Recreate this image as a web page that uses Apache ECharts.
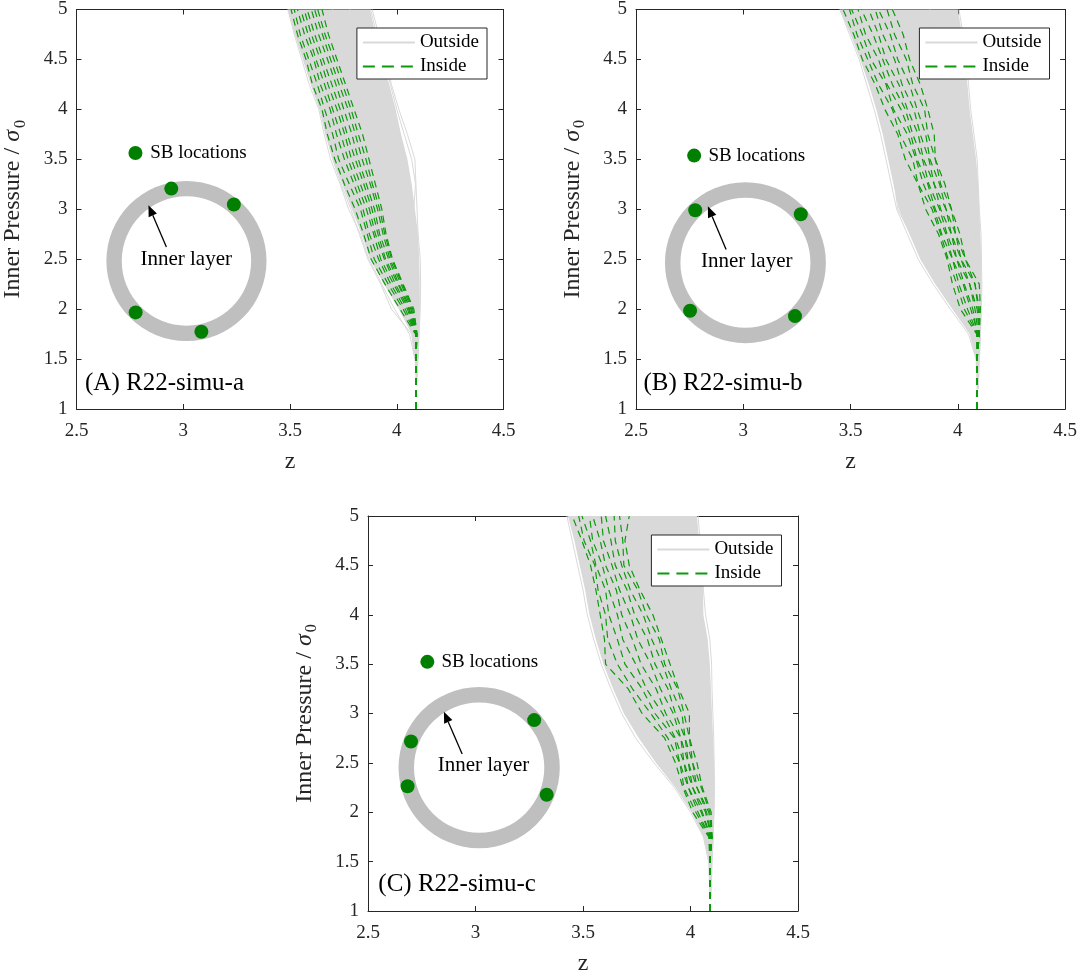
<!DOCTYPE html>
<html>
<head>
<meta charset="utf-8">
<title>Inner pressure vs z</title>
<script src="https://cdn.jsdelivr.net/npm/echarts@6/dist/echarts.min.js"></script>
<style>
  html, body { margin: 0; padding: 0; background: #fff; }
  #chart { width: 1080px; height: 977px; }
</style>
</head>
<body>
<div id="chart"></div>
<script>
// pressure levels (Inner Pressure / sigma0) shared by every trajectory
const levels = [1, 1.25, 1.5, 1.75, 2, 2.25, 2.5, 2.75, 3, 3.25, 3.5, 3.75, 4, 4.25, 4.5, 4.75, 5];

// ---- panel A : R22-simu-a ----
const envPA = [1.3, 1.5, 1.75, 2, 2.25, 2.5, 2.75, 3, 3.25, 3.5, 3.75, 4, 4.25, 4.5, 4.75, 5];
const envLeftA = [4.088, 4.084, 4.07, 4.01, 3.94, 3.875, 3.835, 3.79, 3.745, 3.70, 3.665, 3.64, 3.598, 3.56, 3.522, 3.49];
const envRightA = [4.098, 4.102, 4.105, 4.108, 4.108, 4.105, 4.10, 4.085, 4.07, 4.05, 4.02, 3.995, 3.965, 3.935, 3.90, 3.875];
const outsideA = [
  [null, null, 4.10, 4.105, 4.11, 4.112, 4.11, 4.10, 4.095, 4.09, 4.085, 4.05, 4.01, 3.975, 3.95, 3.915, 3.885],
  [null, null, 4.10, 4.10, 4.105, 4.10, 4.095, 4.085, 4.08, 4.088, 4.07, 4.035, 4.0, 3.97, 3.94, 3.905, 3.878],
  [null, null, 4.085, 4.06, 3.99, 3.93, 3.87, 3.83, 3.775, 3.735, 3.69, 3.66, 3.635, 3.59, 3.555, 3.52, 3.49],
  [null, null, 4.085, 4.07, 3.975, 3.925, 3.865, 3.825, 3.785, 3.74, 3.70, 3.67, 3.64, 3.60, 3.565, 3.53, 3.50],
  [null, null, 4.09, 4.095, 4.085, 4.05, 4.01, 3.97, 3.95, 3.93, 3.90, 3.86, 3.83, 3.80, 3.76, 3.73, 3.70],
  [null, null, 4.095, 4.10, 4.10, 4.09, 4.07, 4.04, 4.02, 4.0, 3.98, 3.95, 3.92, 3.88, 3.85, 3.81, 3.78]
];
const insideA = [
  [4.09, 4.09, 4.09, 4.088, 4.015, 3.945, 3.88, 3.845, 3.805, 3.755, 3.71, 3.675, 3.65, 3.605, 3.575, 3.535, 3.505],
  [4.09, 4.09, 4.09, 4.09, 4.03, 3.96, 3.895, 3.862, 3.83, 3.778, 3.728, 3.70, 3.662, 3.628, 3.588, 3.548, 3.52],
  [4.09, 4.09, 4.09, 4.092, 4.04, 3.972, 3.915, 3.872, 3.842, 3.80, 3.755, 3.718, 3.688, 3.642, 3.612, 3.568, 3.535],
  [4.09, 4.09, 4.09, 4.09, 4.05, 3.985, 3.925, 3.892, 3.858, 3.815, 3.772, 3.738, 3.70, 3.662, 3.622, 3.585, 3.55],
  [4.09, 4.09, 4.09, 4.093, 4.056, 3.994, 3.942, 3.90, 3.872, 3.83, 3.788, 3.756, 3.72, 3.678, 3.642, 3.60, 3.566],
  [4.09, 4.09, 4.09, 4.09, 4.06, 4.006, 3.948, 3.912, 3.884, 3.846, 3.806, 3.768, 3.735, 3.696, 3.655, 3.616, 3.58],
  [4.09, 4.09, 4.09, 4.094, 4.066, 4.01, 3.962, 3.92, 3.896, 3.858, 3.82, 3.79, 3.752, 3.715, 3.676, 3.634, 3.60],
  [4.09, 4.09, 4.09, 4.092, 4.07, 4.02, 3.968, 3.936, 3.91, 3.876, 3.838, 3.806, 3.772, 3.73, 3.69, 3.652, 3.615],
  [4.09, 4.09, 4.09, 4.095, 4.075, 4.026, 3.976, 3.944, 3.92, 3.886, 3.856, 3.82, 3.786, 3.746, 3.706, 3.664, 3.63],
  [4.09, 4.09, 4.09, 4.095, 4.08, 4.03, 3.98, 3.95, 3.93, 3.90, 3.87, 3.84, 3.80, 3.76, 3.72, 3.68, 3.65]
];
const sbDotsA = [[2.944, 3.207], [3.237, 3.047], [2.777, 1.967], [3.085, 1.773]];

// ---- panel B : R22-simu-b ----
const envPB = [1.2, 1.5, 1.75, 2, 2.25, 2.5, 2.75, 3, 3.25, 3.5, 3.75, 4, 4.25, 4.5, 4.75, 5];
const envLeftB = [4.088, 4.083, 4.055, 3.975, 3.895, 3.825, 3.775, 3.725, 3.70, 3.675, 3.65, 3.62, 3.585, 3.545, 3.50, 3.45];
const envRightB = [4.098, 4.103, 4.108, 4.11, 4.11, 4.11, 4.105, 4.10, 4.095, 4.085, 4.07, 4.055, 4.045, 4.035, 4.02, 4.00];
const outsideB = [
  [null, null, 4.10, 4.105, 4.11, 4.112, 4.11, 4.108, 4.10, 4.095, 4.09, 4.075, 4.06, 4.05, 4.04, 4.025, 4.005],
  [null, null, 4.085, 4.05, 3.965, 3.885, 3.815, 3.765, 3.715, 3.69, 3.665, 3.64, 3.61, 3.575, 3.54, 3.495, 3.45],
  [null, null, 4.085, 4.06, 3.98, 3.90, 3.83, 3.78, 3.72, 3.705, 3.685, 3.66, 3.63, 3.59, 3.555, 3.51, 3.465],
  [null, null, 4.09, 4.095, 4.09, 4.07, 4.03, 3.99, 3.96, 3.93, 3.90, 3.87, 3.84, 3.80, 3.77, 3.73, 3.70],
  [null, null, 4.095, 4.10, 4.105, 4.10, 4.09, 4.075, 4.06, 4.04, 4.02, 4.00, 3.975, 3.95, 3.93, 3.90, 3.87]
];
const insideB = [
  [4.09, 4.09, 4.09, 4.088, 4.012, 3.975, 3.95, 3.91, 3.85, 3.815, 3.755, 3.72, 3.66, 3.615, 3.555, 3.515, 3.465],
  [4.09, 4.09, 4.09, 4.09, 4.03, 3.995, 3.955, 3.92, 3.88, 3.815, 3.79, 3.73, 3.695, 3.63, 3.58, 3.53, 3.495],
  [4.09, 4.09, 4.09, 4.092, 4.045, 4.005, 3.975, 3.925, 3.89, 3.84, 3.805, 3.765, 3.70, 3.665, 3.595, 3.555, 3.505],
  [4.09, 4.09, 4.09, 4.095, 4.06, 4.025, 3.975, 3.945, 3.895, 3.86, 3.81, 3.78, 3.735, 3.67, 3.63, 3.57, 3.535],
  [4.09, 4.09, 4.09, 4.09, 4.07, 4.03, 3.995, 3.95, 3.915, 3.865, 3.835, 3.79, 3.755, 3.695, 3.65, 3.605, 3.55],
  [4.09, 4.09, 4.09, 4.095, 4.08, 4.055, 3.995, 3.97, 3.92, 3.89, 3.84, 3.815, 3.765, 3.725, 3.665, 3.63, 3.585],
  [4.09, 4.09, 4.09, 4.098, 4.09, 4.055, 4.015, 3.97, 3.945, 3.89, 3.865, 3.825, 3.795, 3.74, 3.705, 3.65, 3.615],
  [4.09, 4.09, 4.09, 4.10, 4.095, 4.08, 4.015, 3.99, 3.945, 3.915, 3.87, 3.85, 3.81, 3.775, 3.72, 3.685, 3.63],
  [4.09, 4.09, 4.09, 4.10, 4.10, 4.08, 4.035, 3.99, 3.97, 3.92, 3.895, 3.86, 3.845, 3.79, 3.76, 3.705, 3.67],
  [4.09, 4.09, 4.09, 4.10, 4.105, 4.10, 4.035, 4.01, 3.97, 3.94, 3.895, 3.89, 3.86, 3.825, 3.775, 3.745, 3.695]
];
const sbDotsB = [[2.776, 2.99], [3.268, 2.95], [2.752, 1.983], [3.241, 1.93]];

// ---- panel C : R22-simu-c ----
const envPC = [1.15, 1.5, 1.75, 2, 2.25, 2.5, 2.75, 3, 3.25, 3.5, 3.75, 4, 4.25, 4.5, 4.75, 5];
const envLeftC = [4.088, 4.082, 4.06, 4.005, 3.93, 3.84, 3.76, 3.69, 3.64, 3.595, 3.56, 3.53, 3.51, 3.485, 3.46, 3.43];
const envRightC = [4.098, 4.103, 4.108, 4.11, 4.11, 4.11, 4.105, 4.10, 4.095, 4.09, 4.08, 4.06, 4.058, 4.054, 4.04, 4.03];
const outsideC = [
  [null, null, 4.10, 4.105, 4.11, 4.112, 4.11, 4.108, 4.104, 4.10, 4.098, 4.09, 4.07, 4.06, 4.056, 4.045, 4.035],
  [null, null, 4.085, 4.06, 4.0, 3.925, 3.83, 3.745, 3.68, 3.63, 3.585, 3.55, 3.52, 3.50, 3.475, 3.45, 3.425],
  [null, null, 4.085, 4.065, 4.01, 3.935, 3.845, 3.77, 3.70, 3.65, 3.60, 3.57, 3.535, 3.515, 3.49, 3.465, 3.44],
  [null, null, 4.09, 4.095, 4.08, 4.05, 4.02, 3.98, 3.94, 3.90, 3.86, 3.84, 3.81, 3.78, 3.75, 3.72, 3.70],
  [null, null, 4.095, 4.10, 4.105, 4.10, 4.09, 4.08, 4.06, 4.04, 4.03, 4.01, 3.99, 3.965, 3.94, 3.92, 3.90]
];
const insideC = [
  [4.09, 4.09, 4.09, 4.085, 4.01, 3.965, 3.93, 3.88, 3.775, 3.71, 3.605, 3.60, 3.58, 3.56, 3.535, 3.495, 3.45],
  [4.09, 4.09, 4.09, 4.088, 4.025, 3.97, 3.95, 3.895, 3.815, 3.73, 3.66, 3.615, 3.605, 3.57, 3.555, 3.505, 3.48],
  [4.09, 4.09, 4.09, 4.09, 4.035, 3.99, 3.95, 3.925, 3.835, 3.775, 3.695, 3.66, 3.62, 3.605, 3.56, 3.535, 3.495],
  [4.09, 4.09, 4.09, 4.092, 4.05, 3.99, 3.97, 3.93, 3.87, 3.795, 3.745, 3.685, 3.66, 3.62, 3.59, 3.545, 3.53],
  [4.09, 4.09, 4.09, 4.094, 4.055, 4.01, 3.97, 3.955, 3.885, 3.84, 3.77, 3.73, 3.68, 3.655, 3.605, 3.58, 3.545],
  [4.09, 4.09, 4.09, 4.096, 4.07, 4.01, 3.99, 3.955, 3.92, 3.86, 3.815, 3.755, 3.72, 3.67, 3.635, 3.595, 3.585],
  [4.09, 4.09, 4.09, 4.098, 4.075, 4.03, 3.99, 3.975, 3.93, 3.895, 3.835, 3.80, 3.74, 3.705, 3.65, 3.63, 3.605],
  [4.09, 4.09, 4.09, 4.10, 4.085, 4.03, 4.01, 3.975, 3.96, 3.91, 3.87, 3.82, 3.78, 3.72, 3.68, 3.65, 3.645],
  [4.09, 4.09, 4.09, 4.10, 4.09, 4.05, 4.01, 3.995, 3.97, 3.94, 3.88, 3.855, 3.795, 3.755, 3.69, 3.685, 3.67],
  [4.09, 4.09, 4.09, 4.10, 4.096, 4.055, 4.03, 3.995, 3.995, 3.945, 3.905, 3.865, 3.825, 3.765, 3.715, 3.695, 3.715]
];
const sbDotsC = [[3.273, 2.933], [2.70, 2.717], [2.684, 2.263], [3.331, 2.177]];

const panelLabels = ['(A) R22-simu-a', '(B) R22-simu-b', '(C) R22-simu-c'];
const xTicks = [2.5, 4.5, 0.5];   // min, max, step
const yTicks = [1, 5, 0.5];

// ---- layout / style (not data) ----
const FONT = 'Liberation Serif';
const AXIS = '#262626';
const GRAY = '#d9d9d9';
const GREEN = '#0c9a0c';
const DOT = '#007f00';
const grids = [
  { left: 74, top: 9, width: 429.5, height: 400 },
  { left: 636, top: 9, width: 430, height: 400 },
  { left: 368, top: 516, width: 430, height: 400 }
];
const legendPos = [{ right: 593, top: 28 }, { right: 30.5, top: 28 }, { right: 298.5, top: 535 }];
// inset sketch anchors, in axis units
const insets = [
  { ring: [3.015, 2.482], sb: [2.776, 3.563], sbText: [2.845, 3.563], arrow: [[2.921, 2.623], [2.837, 3.04]], inner: [3.014, 2.497], label: [2.54, 1.258] },
  { ring: [3.01, 2.465], sb: [2.771, 3.537], sbText: [2.838, 3.537], arrow: [[2.92, 2.597], [2.835, 3.03]], inner: [3.016, 2.473], label: [2.535, 1.257] },
  { ring: [3.017, 2.452], sb: [2.776, 3.523], sbText: [2.842, 3.523], arrow: [[2.938, 2.59], [2.853, 3.017]], inner: [3.037, 2.473], label: [2.548, 1.267] }
];
const RING_R = 0.375, RING_R0 = 0.303;

const panels = [
  { envP: envPA, envL: envLeftA, envR: envRightA, outside: outsideA, inside: insideA, dots: sbDotsA },
  { envP: envPB, envL: envLeftB, envR: envRightB, outside: outsideB, inside: insideB, dots: sbDotsB },
  { envP: envPC, envL: envLeftC, envR: envRightC, outside: outsideC, inside: insideC, dots: sbDotsC }
];

function toPoints(row) {
  return levels.map((p, k) => [row[k], p]).filter(d => d[0] !== null);
}

const xAxis = [], yAxis = [], series = [], legend = [];

panels.forEach((pn, i) => {
  const ax = 2 * i;
  const lineCommon = { show: true, onZero: false, lineStyle: { color: AXIS, width: 1 } };
  const tickCommon = { show: true, inside: true, length: 5, lineStyle: { color: AXIS } };
  xAxis.push({
    gridIndex: i, type: 'value', min: xTicks[0], max: xTicks[1], interval: xTicks[2],
    name: 'z', nameLocation: 'middle', nameGap: 41,
    nameTextStyle: { fontFamily: FONT, fontSize: 24, color: AXIS },
    axisLine: lineCommon, axisTick: tickCommon,
    axisLabel: { fontFamily: FONT, fontSize: 19, color: AXIS, margin: 13 },
    splitLine: { show: false }
  });
  xAxis.push({
    gridIndex: i, type: 'value', position: 'top', min: xTicks[0], max: xTicks[1], interval: xTicks[2],
    axisLine: lineCommon, axisTick: tickCommon, axisLabel: { show: false }, splitLine: { show: false }
  });
  yAxis.push({
    gridIndex: i, type: 'value', min: yTicks[0], max: yTicks[1], interval: yTicks[2],
    name: '{a|Inner Pressure / }{s|σ}{b|0}', nameLocation: 'middle', nameGap: 48, nameRotate: 90,
    nameTextStyle: {
      color: AXIS,
      rich: {
        a: { fontFamily: FONT, fontSize: 24, color: AXIS },
        s: { fontFamily: FONT, fontSize: 24, fontStyle: 'italic', color: AXIS },
        b: { fontFamily: FONT, fontSize: 16, color: AXIS, padding: [15, 0, 0, 2] }
      }
    },
    axisLine: lineCommon, axisTick: tickCommon,
    axisLabel: { fontFamily: FONT, fontSize: 19, color: AXIS, margin: 9 },
    splitLine: { show: false }
  });
  yAxis.push({
    gridIndex: i, type: 'value', position: 'right', min: yTicks[0], max: yTicks[1], interval: yTicks[2],
    axisLine: lineCommon, axisTick: tickCommon, axisLabel: { show: false }, splitLine: { show: false }
  });

  // gray envelope of the outside trajectories
  series.push({
    type: 'custom', name: 'band', xAxisIndex: ax, yAxisIndex: ax, z: 1, silent: true,
    data: [[pn.envL[0], pn.envP[0]]],
    renderItem: (params, api) => {
      const pts = [];
      pn.envP.forEach((p, k) => pts.push(api.coord([pn.envL[k], p])));
      for (let k = pn.envP.length - 1; k >= 0; k--) pts.push(api.coord([pn.envR[k], pn.envP[k]]));
      return { type: 'polygon', shape: { points: pts }, style: { fill: GRAY } };
    }
  });
  pn.outside.forEach(row => series.push({
    type: 'line', name: 'Outside', xAxisIndex: ax, yAxisIndex: ax, z: 2, symbol: 'none', silent: true,
    itemStyle: { color: GRAY }, lineStyle: { color: GRAY, width: 1 }, data: toPoints(row)
  }));
  pn.inside.forEach(row => series.push({
    type: 'line', name: 'Inside', xAxisIndex: ax, yAxisIndex: ax, z: 3, symbol: 'none', silent: true,
    itemStyle: { color: GREEN }, lineStyle: { color: GREEN, width: 1.2, type: [7, 5] }, data: toPoints(row)
  }));

  // inset sketch: ring, arrow and texts
  const ins = insets[i];
  series.push({
    type: 'custom', name: 'inset', xAxisIndex: ax, yAxisIndex: ax, z: 4, silent: true,
    data: [ins.ring],
    renderItem: (params, api) => {
      const c = api.coord(ins.ring);
      const r = api.size([RING_R, 0])[0];
      const r0 = api.size([RING_R0, 0])[0];
      const a0 = api.coord(ins.arrow[0]), a1 = api.coord(ins.arrow[1]);
      const dx = a1[0] - a0[0], dy = a1[1] - a0[1], L = Math.hypot(dx, dy);
      const ux = dx / L, uy = dy / L, hl = 11, hw = 4.5;
      const b = [a1[0] - ux * hl, a1[1] - uy * hl];
      const tIn = api.coord(ins.inner), tSb = api.coord(ins.sbText), tLab = api.coord(ins.label);
      const txt = (text, p, size, align) => ({
        type: 'text',
        style: { text, x: p[0], y: p[1], fill: '#000', fontFamily: FONT, fontSize: size, align, verticalAlign: 'middle' }
      });
      return {
        type: 'group',
        children: [
          { type: 'ring', shape: { cx: c[0], cy: c[1], r, r0 }, style: { fill: '#bfbfbf' } },
          { type: 'line', shape: { x1: a0[0], y1: a0[1], x2: b[0], y2: b[1] }, style: { stroke: '#000', lineWidth: 1.3 } },
          { type: 'polygon', shape: { points: [a1, [b[0] - uy * hw, b[1] + ux * hw], [b[0] + uy * hw, b[1] - ux * hw]] }, style: { fill: '#000' } },
          txt('Inner layer', tIn, 21, 'center'),
          txt('SB locations', tSb, 19, 'left'),
          txt(panelLabels[i], tLab, 25, 'left')
        ]
      };
    }
  });
  series.push({
    type: 'scatter', name: 'SB locations', xAxisIndex: ax, yAxisIndex: ax, z: 5, silent: true,
    symbolSize: 14, itemStyle: { color: DOT, opacity: 1 }, data: pn.dots.concat([ins.sb])
  });

  legend.push(Object.assign({
    data: [{ name: 'Outside' }, { name: 'Inside', lineStyle: { type: [12, 7] } }],
    orient: 'vertical', itemWidth: 52, itemHeight: 19, itemGap: 5,
    padding: [5, 8, 3, 5], borderColor: AXIS, borderWidth: 1, borderRadius: 0,
    backgroundColor: '#fff', selectedMode: false,
    itemStyle: { opacity: 0 },
    textStyle: { fontFamily: FONT, fontSize: 19, color: '#000' }
  }, legendPos[i]));
});

const chart = echarts.init(document.getElementById('chart'), null, { renderer: 'canvas' });
chart.setOption({
  animation: false,
  backgroundColor: '#fff',
  grid: grids,
  xAxis, yAxis, legend, series
});
</script>
</body>
</html>
